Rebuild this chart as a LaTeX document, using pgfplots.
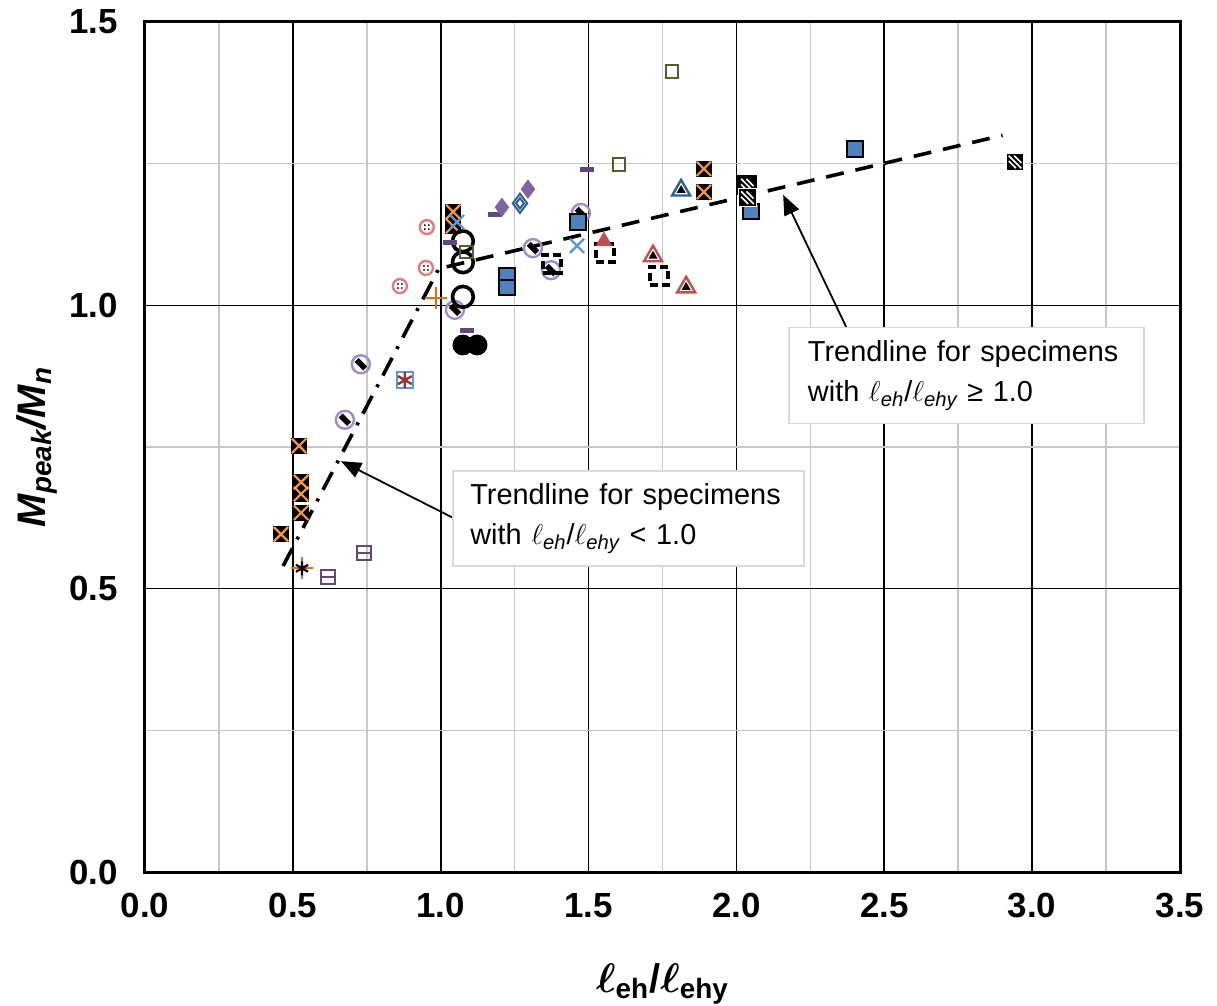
\documentclass[border=0pt]{standalone}
\usepackage{fontspec}
\setmainfont{Liberation Sans}
\usepackage{pgfplots}
\usepackage{pgfplotstable}
\pgfplotsset{compat=1.18}
\usetikzlibrary{arrows.meta}

\definecolor{orng}{HTML}{F79646}
\definecolor{orngdk}{HTML}{E46C0A}
\definecolor{purp}{HTML}{8064A2}
\definecolor{purplt}{HTML}{9F8CC9}
\definecolor{purpdk}{HTML}{5F497A}
\definecolor{pinkc}{HTML}{E07B7E}
\definecolor{olive}{HTML}{4F6228}
\definecolor{blu}{HTML}{4F81BD}
\definecolor{bluX}{HTML}{5B9BD5}
\definecolor{bludk}{HTML}{2E5F94}
\definecolor{redc}{HTML}{C0504D}
\definecolor{darkred}{HTML}{943634}

\pgfdeclareplotmark{fourdots}{%
  \pgfpathcircle{\pgfpoint{0.38\pgfplotmarksize}{0.38\pgfplotmarksize}}{0.2\pgfplotmarksize}%
  \pgfpathcircle{\pgfpoint{-0.38\pgfplotmarksize}{0.38\pgfplotmarksize}}{0.2\pgfplotmarksize}%
  \pgfpathcircle{\pgfpoint{0.38\pgfplotmarksize}{-0.38\pgfplotmarksize}}{0.2\pgfplotmarksize}%
  \pgfpathcircle{\pgfpoint{-0.38\pgfplotmarksize}{-0.38\pgfplotmarksize}}{0.2\pgfplotmarksize}%
  \pgfusepathqfill}
\pgfdeclareplotmark{hatchsq}{%
  \pgfpathrectangle{\pgfpoint{-\pgfplotmarksize}{-\pgfplotmarksize}}{\pgfpoint{2\pgfplotmarksize}{2\pgfplotmarksize}}%
  \pgfusepathqfillstroke
  \pgfsetstrokecolor{white}\pgfsetlinewidth{0.8bp}%
  \pgfpathmoveto{\pgfpoint{-0.7\pgfplotmarksize}{0.7\pgfplotmarksize}}\pgfpathlineto{\pgfpoint{0.7\pgfplotmarksize}{-0.7\pgfplotmarksize}}%
  \pgfpathmoveto{\pgfpoint{-0.7\pgfplotmarksize}{0.1\pgfplotmarksize}}\pgfpathlineto{\pgfpoint{0.1\pgfplotmarksize}{-0.7\pgfplotmarksize}}%
  \pgfpathmoveto{\pgfpoint{-0.1\pgfplotmarksize}{0.7\pgfplotmarksize}}\pgfpathlineto{\pgfpoint{0.7\pgfplotmarksize}{-0.1\pgfplotmarksize}}%
  \pgfusepathqstroke}
\pgfdeclareplotmark{bigx}{%
  \pgfpathmoveto{\pgfpoint{-\pgfplotmarksize}{-\pgfplotmarksize}}\pgfpathlineto{\pgfpoint{\pgfplotmarksize}{\pgfplotmarksize}}%
  \pgfpathmoveto{\pgfpoint{-\pgfplotmarksize}{\pgfplotmarksize}}\pgfpathlineto{\pgfpoint{\pgfplotmarksize}{-\pgfplotmarksize}}%
  \pgfusepathqstroke}

\pgfplotstableread{
x y
0.521 0.752
0.528 0.688
0.528 0.667
0.528 0.634
0.460 0.596
1.042 1.165
1.042 1.140
1.890 1.241
1.890 1.200
}\boxx
\pgfplotstableread{
x y
0.730 0.896
0.676 0.798
1.048 0.992
1.312 1.101
1.373 1.062
1.474 1.163
}\hcirc
\pgfplotstableread{
x y
0.741 0.563
0.619 0.521
}\hsq
\pgfplotstableread{
x y
0.862 1.034
0.950 1.066
0.953 1.138
}\dotcirc
\pgfplotstableread{
x y
1.718 1.087
1.830 1.032
}\redtri

\begin{document}
\begin{tikzpicture}
\begin{axis}[
  scale only axis, width=517.5bp, height=425bp,
  xmin=0, xmax=3.5, ymin=0, ymax=1.5,
  xtick={0,0.5,1,1.5,2,2.5,3,3.5}, ytick={0,0.5,1,1.5},
  minor x tick num=1, minor y tick num=1,
  grid=both,
  major grid style={black, line width=0.8bp},
  minor grid style={black!22, line width=0.8bp},
  axis line style={line width=1.5bp},
  major tick length=0pt, minor tick length=0pt,
  /pgf/number format/assume math mode=true,
  tick label style={font=\fontsize{17.5}{19}\selectfont\bfseries},
  xticklabel style={yshift=-7bp, /pgf/number format/fixed, /pgf/number format/fixed zerofill, /pgf/number format/precision=1},
  yticklabel style={xshift=-10bp, /pgf/number format/fixed, /pgf/number format/fixed zerofill, /pgf/number format/precision=1},
  clip=false,
]
\coordinate (sw) at (rel axis cs:0,0);
\coordinate (ne) at (rel axis cs:1,1);

% trendlines
\addplot[black, line width=1.8bp, dash pattern=on 10bp off 5bp on 1.5bp off 5bp] coordinates {(0.467,0.540) (0.998,1.069)};
\addplot[black, line width=1.8bp, dash pattern=on 9bp off 6bp] coordinates {(1.02,1.068) (2.90,1.300)};

% orange boxed X
\addplot[only marks, mark=square*, mark size=3.5bp, mark options={draw=black, fill=black, line width=0.8bp}] table {\boxx};
\addplot[only marks, mark=bigx, mark size=3.6bp, mark options={draw=orng, line width=1.1bp}] table {\boxx};
% orange plus
\addplot[only marks, mark=+, mark size=5.5bp, mark options={draw=orngdk, line width=1bp}] coordinates {(0.984,1.013) (0.531,0.536)};
\addplot[only marks, mark=asterisk, mark size=3.5bp, mark options={draw=black, line width=1.1bp}] coordinates {(0.531,0.536)};
% purple hatched circles
\addplot[only marks, mark=o, mark size=4.5bp, mark options={draw=purplt, line width=1.2bp}] table {\hcirc};
\addplot[only marks, mark=-, mark size=3bp, mark options={draw=black, line width=2.8bp, rotate=-45}] table {\hcirc};
% blue box with red asterisk
\addplot[only marks, mark=square, mark size=4bp, mark options={draw=bluX, line width=1bp}] coordinates {(0.879,0.868)};
\addplot[only marks, mark=asterisk, mark size=4bp, mark options={draw=darkred, line width=1.2bp}] coordinates {(0.879,0.868)};
% purple boxed minus
\addplot[only marks, mark=square, mark size=3.5bp, mark options={draw=purpdk, line width=1bp}] table {\hsq};
\addplot[only marks, mark=-, mark size=3.5bp, mark options={draw=purpdk, line width=1bp}] table {\hsq};
% pink dotted circles
\addplot[only marks, mark=o, mark size=3.5bp, mark options={draw=pinkc, line width=1.2bp}] table {\dotcirc};
\addplot[only marks, mark=fourdots, mark size=2.6bp, mark options={fill=black, draw=none}] table {\dotcirc};
% black open circles
\addplot[only marks, mark=o, mark size=5.2bp, mark options={draw=black, line width=1.8bp}] coordinates {(1.075,1.113) (1.075,1.076) (1.075,1.015)};
% green squares
\addplot[only marks, mark=square, mark size=3.2bp, mark options={draw=olive, line width=1bp}] coordinates {(1.086,1.094) (1.782,1.413) (1.603,1.249)};
% black filled circles
\addplot[only marks, mark=*, mark size=5bp, mark options={draw=black, fill=black}] coordinates {(1.075,0.930) (1.123,0.930)};
% purple dashes
\addplot[only marks, mark=-, mark size=3.5bp, mark options={draw=purpdk, line width=2.5bp}] coordinates {(1.031,1.110) (1.089,0.955) (1.495,1.239) (1.185,1.160)};
% purple filled diamonds
\addplot[only marks, mark=diamond*, mark size=4.5bp, mark options={draw=purp, fill=purp}] coordinates {(1.207,1.173) (1.295,1.205)};
% blue double diamond
\addplot[only marks, mark=diamond, mark size=4.8bp, mark options={draw=bludk, line width=1bp}] coordinates {(1.268,1.180)};
\addplot[only marks, mark=diamond, mark size=2.6bp, mark options={draw=bludk, line width=1bp}] coordinates {(1.268,1.180)};
% blue X
\addplot[only marks, mark=x, mark size=5bp, mark options={draw=bluX, line width=1.2bp}] coordinates {(1.055,1.147) (1.461,1.105)};
% blue filled squares
\addplot[only marks, mark=square*, mark size=3.8bp, mark options={draw=black, fill=blu, line width=1bp}] coordinates {(1.224,1.053) (1.224,1.032) (1.464,1.147) (2.049,1.165) (2.401,1.276)};
% black dashed squares
\addplot[only marks, mark=square, mark size=4.5bp, mark options={draw=black, line width=2bp, dash pattern=on 4bp off 2bp}] coordinates {(1.376,1.073) (1.555,1.092) (1.738,1.052)};
% red filled triangle
\addplot[only marks, mark=triangle*, mark size=4.5bp, mark options={draw=redc, fill=redc}] coordinates {(1.552,1.113)};
% red open triangles
\addplot[only marks, mark=triangle, mark size=5.2bp, mark options={draw=redc, line width=1.2bp}] table {\redtri};
\addplot[only marks, mark=triangle*, mark size=2.2bp, mark options={draw=black, fill=black}] table {\redtri};
% blue open triangle
\addplot[only marks, mark=triangle, mark size=5.2bp, mark options={draw=bludk, line width=1.2bp}] coordinates {(1.813,1.203)};
\addplot[only marks, mark=triangle*, mark size=2.2bp, mark options={draw=black, fill=black}] coordinates {(1.813,1.203)};
% hatched squares
\addplot[only marks, mark=hatchsq, mark size=4.5bp, mark options={draw=black, fill=black, line width=1bp}] coordinates {(2.037,1.212) (2.037,1.190) (2.942,1.253)};

% annotations
\draw[-{Triangle[length=10bp,width=8bp]}, line width=0.9bp] (axis cs:2.371,0.962) -- (axis cs:2.158,1.195);
\draw[-{Triangle[length=10bp,width=8bp]}, line width=0.9bp] (axis cs:1.038,0.626) -- (axis cs:0.663,0.725);
\node[draw=black!15, line width=0.8bp, fill=white, anchor=north west, minimum width=177.5bp, minimum height=48bp, text width=158.5bp, inner xsep=9.5bp, inner ysep=0pt, align=left, font=\fontsize{14.5}{20}\selectfont] at (axis cs:2.175,0.962) {Trendline for specimens\\with $\ell$\textsubscript{\itshape eh}/$\ell$\textsubscript{\itshape ehy} ≥ 1.0};
\node[draw=black!15, line width=0.8bp, fill=white, anchor=north west, minimum width=175.5bp, minimum height=47.5bp, text width=158bp, inner xsep=8.8bp, inner ysep=0pt, align=left, font=\fontsize{14.5}{20}\selectfont] at (axis cs:1.038,0.709) {Trendline for specimens\\with $\ell$\textsubscript{\itshape eh}/$\ell$\textsubscript{\itshape ehy} < 1.0};

% axis labels
\node[rotate=90, font=\fontsize{20}{22}\selectfont\bfseries\itshape] at ([xshift=-54bp]rel axis cs:0,0.5) {M\textsubscript{peak}/M\textsubscript{n}};
\node[font=\fontsize{20}{22}\selectfont\bfseries] at ([yshift=-56bp]rel axis cs:0.5,0) {{\boldmath$\ell$}\textsubscript{eh}/{\boldmath$\ell$}\textsubscript{ehy}};
\end{axis}
\pgfresetboundingbox
\path ([shift={(-72.5bp,-67bp)}]sw) rectangle ([shift={(18.5bp,11bp)}]ne);
\end{tikzpicture}
\end{document}
